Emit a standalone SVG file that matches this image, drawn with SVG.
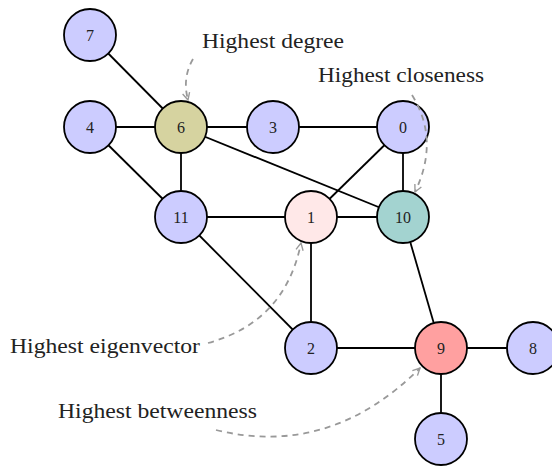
<svg xmlns="http://www.w3.org/2000/svg" width="552" height="466" viewBox="0 0 552 466">
<style>
.n circle{stroke:#000;stroke-width:1.8;fill:#ccccff}
.n text{font-family:"Liberation Serif",serif;font-size:16px;text-anchor:middle;fill:#222}
.e line{stroke:#000;stroke-width:1.8}
.lbl{font-family:"Liberation Serif",serif;font-size:21px;fill:#222}
.arr{fill:none;stroke:#999;stroke-width:1.8;stroke-dasharray:6,5}
</style>
<defs>
<marker id="ah" viewBox="0 0 10 10" refX="9" refY="5" markerWidth="9" markerHeight="9" markerUnits="userSpaceOnUse" orient="auto">
<path d="M1,1 L9,5 L1,9" fill="none" stroke="#999" stroke-width="1.5"/>
</marker>
</defs>
<rect width="552" height="466" fill="#fff"/>
<g id="edges" class="e">
<line x1="90" y1="35" x2="181" y2="127"/>
<line x1="90" y1="127" x2="181" y2="127"/>
<line x1="90" y1="127" x2="181" y2="217"/>
<line x1="181" y1="127" x2="273" y2="127"/>
<line x1="181" y1="127" x2="181" y2="217"/>
<line x1="181" y1="127" x2="403" y2="217"/>
<line x1="273" y1="127" x2="403" y2="127"/>
<line x1="403" y1="127" x2="311" y2="217"/>
<line x1="403" y1="127" x2="403" y2="217"/>
<line x1="181" y1="217" x2="311" y2="217"/>
<line x1="181" y1="217" x2="311" y2="348"/>
<line x1="311" y1="217" x2="403" y2="217"/>
<line x1="311" y1="217" x2="311" y2="348"/>
<line x1="403" y1="217" x2="441" y2="348"/>
<line x1="311" y1="348" x2="441" y2="348"/>
<line x1="441" y1="348" x2="533" y2="348"/>
<line x1="441" y1="348" x2="441" y2="439"/>
</g>
<g id="node7" class="n"><circle cx="90" cy="35" r="26"/><text x="90" y="41">7</text></g>
<g id="node4" class="n"><circle cx="90" cy="127" r="26"/><text x="90" y="133">4</text></g>
<g id="node6" class="n"><circle cx="181" cy="127" r="26" style="fill:#d6d3a0"/><text x="181" y="133">6</text></g>
<g id="node3" class="n"><circle cx="273" cy="127" r="26"/><text x="273" y="133">3</text></g>
<g id="node0" class="n"><circle cx="403" cy="127" r="26"/><text x="403" y="133">0</text></g>
<g id="node11" class="n"><circle cx="181" cy="217" r="26"/><text x="181" y="223">11</text></g>
<g id="node1" class="n"><circle cx="311" cy="217" r="26" style="fill:#ffe8e8"/><text x="311" y="223">1</text></g>
<g id="node10" class="n"><circle cx="403" cy="217" r="26" style="fill:#a3d3d0"/><text x="403" y="223">10</text></g>
<g id="node2" class="n"><circle cx="311" cy="348" r="26"/><text x="311" y="354">2</text></g>
<g id="node9" class="n"><circle cx="441" cy="348" r="26" style="fill:#ffa0a0"/><text x="441" y="354">9</text></g>
<g id="node8" class="n"><circle cx="533" cy="348" r="26"/><text x="533" y="354">8</text></g>
<g id="node5" class="n"><circle cx="441" cy="439" r="26"/><text x="441" y="445">5</text></g>
<g id="annotations">
<text class="lbl" x="202" y="48" textLength="142" lengthAdjust="spacingAndGlyphs">Highest degree</text>
<text class="lbl" x="318" y="82" textLength="166" lengthAdjust="spacingAndGlyphs">Highest closeness</text>
<text class="lbl" x="10" y="353" textLength="190" lengthAdjust="spacingAndGlyphs">Highest eigenvector</text>
<text class="lbl" x="58" y="418" textLength="199" lengthAdjust="spacingAndGlyphs">Highest betweenness</text>
<path class="arr" d="M193,59 Q182,78 188,100" marker-end="url(#ah)"/>
<path class="arr" d="M412,95 Q440,140 415,192" marker-end="url(#ah)"/>
<path class="arr" d="M208,343 Q285,322 301,243" marker-end="url(#ah)"/>
<path class="arr" d="M216,430 Q330,458 420,368" marker-end="url(#ah)"/>
</g>
</svg>
